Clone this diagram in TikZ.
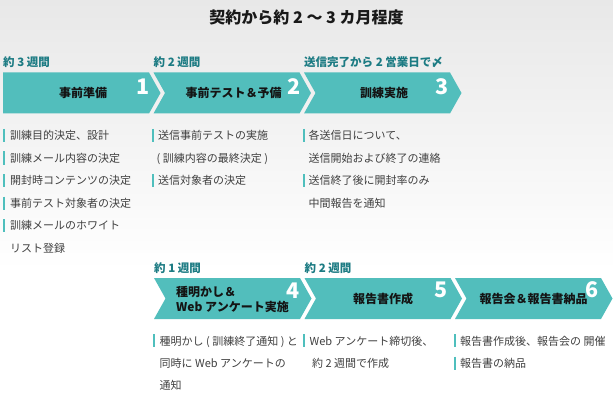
\documentclass[tikz,border=0pt]{standalone}
\usepackage{fontspec}
\setmainfont{Noto Sans CJK JP}
\definecolor{arrowteal}{HTML}{52BEBC}
\definecolor{labelteal}{HTML}{1C7B83}
\definecolor{barteal}{HTML}{4FBFBD}
\definecolor{desctext}{HTML}{404040}
\definecolor{bgtop}{HTML}{E8E8E8}
\tikzset{
  arrowfill/.style={fill=arrowteal},
  titletext/.style={inner sep=0pt, anchor=base, font=\fontsize{16}{18}\selectfont\bfseries, text=black!90},
  periodtext/.style={inner sep=0pt, anchor=base west, font=\fontsize{11.5}{13}\selectfont\bfseries, text=labelteal},
  steptext/.style={inner sep=0pt, anchor=base, font=\fontsize{12}{14}\selectfont\bfseries, text=black!92},
  steptextl/.style={inner sep=0pt, anchor=base west, font=\fontsize{12}{14}\selectfont\bfseries, text=black!92},
  numtext/.style={inner sep=0pt, anchor=base, font=\fontsize{21.5}{22}\selectfont\bfseries, text=white},
  desc/.style={inner sep=0pt, anchor=base west, font=\fontsize{11}{13}\selectfont, text=desctext},
  bar/.style={draw=barteal, line width=2pt},
}
\newcommand\chevfirst[2]{\fill[arrowfill] (#1,#2) -- ++(146,0) -- ++(11.5,20.5) -- ++(-11.5,20.5) -- ++(-146,0) -- cycle;}
\newcommand\chevnext[2]{\fill[arrowfill] (#1,#2) -- ++(146,0) -- ++(11.5,20.5) -- ++(-11.5,20.5) -- ++(-146,0) -- ++(11.5,-20.5) -- cycle;}
\newcommand\descbar[2]{\draw[bar] (#1,#2-6.5) -- (#1,#2+6.5);}
\begin{document}
\begin{tikzpicture}[x=1pt,y=-1pt]
\useasboundingbox (0,0) rectangle (613,401);
\shade[top color=bgtop, bottom color=white] (0,0) rectangle (613,270);
\fill[white] (0,270) rectangle (613,401);

% title
\node[titletext] (title) at (306.5,23.5) {契約から約 2 ～ 3 カ月程度};

% row 1 arrows
\chevfirst{3}{72.5}
\chevnext{153.5}{72.5}
\chevnext{304}{72.5}

\node[periodtext] (p1) at (3,67) {約 3 週間};
\node[periodtext] (p2) at (153.5,67) {約 2 週間};
\node[periodtext] (p3) at (304,67) {送信完了から 2 営業日で〆};

\node[steptext] (s1) at (83,97.5) {事前準備};
\node[steptext] (s2) at (233.5,97.5) {事前テスト＆予備};
\node[steptext] (s3) at (384,97.5) {訓練実施};

\node[numtext] (n1) at (143,95) {1};
\node[numtext] (n2) at (294,95) {2};
\node[numtext] (n3) at (442.5,95) {3};

% row 1 descriptions
\descbar{3.5}{135.5}
\node[desc] (d1a) at (10,139.7) {訓練目的決定、設計};
\descbar{3.5}{158}
\node[desc] (d1b) at (10,162.2) {訓練メール内容の決定};
\descbar{3.5}{180.5}
\node[desc] (d1c) at (10,184.7) {開封時コンテンツの決定};
\descbar{3.5}{203}
\node[desc] (d1d) at (10,207.2) {事前テスト対象者の決定};
\descbar{3.5}{225.5}
\node[desc] (d1e) at (10,229.7) {訓練メールのホワイト};
\node[desc] (d1f) at (10,252.2) {リスト登録};

\descbar{153}{135.5}
\node[desc] (d2a) at (158,139.7) {送信事前テストの実施};
\node[desc] (d2b) at (156.5,162.2) {( 訓練内容の最終決定 )};
\descbar{153}{180.5}
\node[desc] (d2c) at (158,184.7) {送信対象者の決定};

\descbar{303.5}{135.5}
\node[desc] (d3a) at (308.5,139.7) {各送信日について、};
\node[desc] (d3b) at (308.5,162.2) {送信開始および終了の連絡};
\descbar{303.5}{180.5}
\node[desc] (d3c) at (308.5,184.7) {送信終了後に開封率のみ};
\node[desc] (d3d) at (308.5,207.2) {中間報告を通知};

% row 2 arrows
\chevnext{154}{278}
\chevnext{304.5}{278}
\chevnext{455}{278}

\node[periodtext] (p4) at (154,272) {約 1 週間};
\node[periodtext] (p5) at (304.5,272) {約 2 週間};

\node[steptextl] (s4a) at (176,296.3) {種明かし＆};
\node[steptextl] (s4b) at (176,311.3) {Web アンケート実施};
\node[steptext] (s5) at (383,303) {報告書作成};
\node[steptext] (s6) at (533.5,303) {報告会＆報告書納品};

\node[numtext] (n4) at (293.5,298) {4};
\node[numtext] (n5) at (441,297) {5};
\node[numtext] (n6) at (592.5,297) {6};

% row 2 descriptions
\descbar{154}{340.8}
\node[desc] (d4a) at (159.5,345) {種明かし ( 訓練終了通知 ) と};
\node[desc] (d4b) at (159.5,367.2) {同時に Web アンケートの};
\node[desc] (d4c) at (159.5,389.4) {通知};

\descbar{303.5}{340.8}
\node[desc] (d5a) at (309.5,345) {Web アンケート締切後、};
\node[desc] (d5b) at (312,367.2) {約 2 週間で作成};

\descbar{454.5}{340.8}
\node[desc] (d6a) at (460,345) {報告書作成後、報告会の 開催};
\descbar{454.5}{363}
\node[desc] (d6b) at (460,367.2) {報告書の納品};
\end{tikzpicture}
\end{document}
